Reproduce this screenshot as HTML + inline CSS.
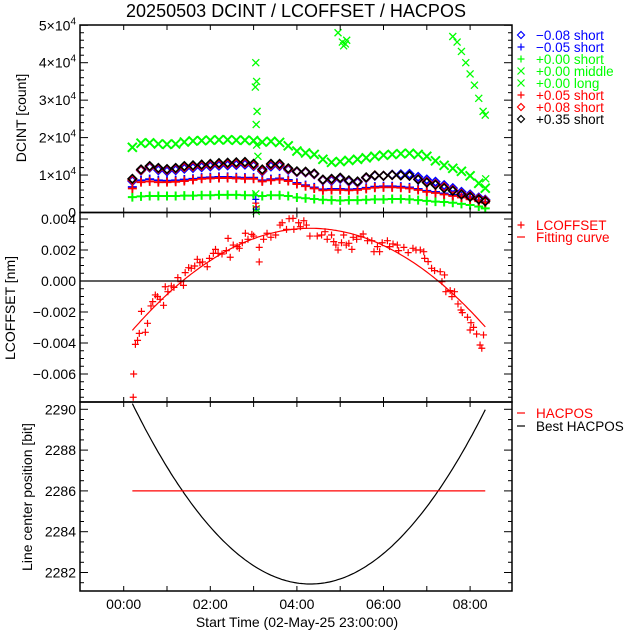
<!DOCTYPE html>
<html><head><meta charset="utf-8"><style>
html,body{margin:0;padding:0;background:#fff;}
svg{display:block;font-family:"Liberation Sans",sans-serif;}
</style></head><body>
<svg id="chart" width="640" height="640" viewBox="0 0 640 640" xmlns="http://www.w3.org/2000/svg">
<rect width="640" height="640" fill="#fff"/>
<text x="296" y="17" font-size="18" text-anchor="middle" textLength="340">20250503 DCINT / LCOFFSET / HACPOS</text>
<g id="marks"></g>
<g id="axes"></g>
<text x="297" y="627" font-size="14" text-anchor="middle">Start Time (02-May-25 23:00:00)</text>
<text transform="translate(26,118) rotate(-90)" font-size="14" text-anchor="middle">DCINT [count]</text>
<text transform="translate(15,308) rotate(-90)" font-size="14" text-anchor="middle">LCOFFSET [nm]</text>
<text transform="translate(32,497) rotate(-90)" font-size="14" text-anchor="middle">Line center position [bit]</text>
<g id="legend"></g>
</svg>
<script>
// ---- data ----
const T = [0.2,0.4,0.6,0.8,1.0,1.2,1.4,1.6,1.8,2.0,2.2,2.4,2.6,2.8,3.0,3.2,3.4,3.6,3.8,4.0,4.2,4.4,4.6,4.8,5.0,5.2,5.4,5.6,5.8,6.0,6.2,6.4,6.6,6.8,7.0,7.2,7.4,7.6,7.8,8.0,8.2,8.35];
// DCINT values in thousands of counts
const greenMiddle = [17.4,18.5,18.6,18.3,18.2,18.3,18.8,19.1,19.2,19.3,19.4,19.4,19.3,19.3,19.2,18.8,19.0,18.7,17.8,16.4,15.9,15.5,14.2,13.4,13.6,13.9,14.2,14.6,15.0,15.3,15.5,15.7,15.8,15.5,15.0,13.8,12.6,11.8,11.0,9.8,7.8,6.5];
const blackDia = [9.0,11.5,12.4,11.9,11.6,11.9,12.4,12.6,12.8,13.0,13.2,13.3,13.4,13.5,13.0,11.5,13.0,13.0,11.8,11.0,10.9,10.4,8.8,9.0,9.3,8.6,8.3,9.4,9.9,9.8,10.0,9.9,9.8,8.8,8.0,7.4,6.5,5.8,4.8,4.2,3.5,3.0];
const blueDia = [8.4,11.2,12.0,11.3,11.0,11.3,11.7,11.9,12.1,12.3,12.5,12.6,12.7,12.8,12.4,11.0,12.3,12.4,11.4,10.8,10.7,10.2,8.6,8.5,9.0,8.3,8.0,9.2,9.8,9.8,10.1,10.2,10.3,9.5,8.8,8.2,7.3,6.5,5.5,4.8,4.0,3.4];
const redDia = [8.7,11.3,12.2,11.7,11.4,11.7,12.1,12.3,12.5,12.7,12.9,13.0,13.1,13.2,12.7,11.2,12.7,12.7,11.6,10.9,10.8,10.3,8.7,8.8,9.2,8.5,8.2,9.3,9.9,9.8,10.0,9.9,9.8,8.9,8.2,7.6,6.8,6.0,5.0,4.4,3.7,3.2];
const bluePlus = [6.8,8.6,8.9,8.6,8.5,8.6,8.8,9.0,9.3,9.4,9.5,9.5,9.4,9.3,9.3,8.6,8.9,9.1,8.7,7.9,7.3,6.7,6.2,6.3,6.3,6.2,6.3,6.6,6.9,7.0,7.0,6.9,6.7,6.3,5.8,5.5,5.1,4.7,4.3,3.8,3.2,2.8];
const redPlus = [6.4,8.1,8.3,8.1,8.1,8.2,8.4,8.7,9.0,9.1,9.2,9.2,9.1,9.0,9.0,8.3,8.6,8.8,8.4,7.6,7.0,6.4,5.9,6.0,6.0,5.9,6.0,6.3,6.6,6.7,6.7,6.6,6.4,6.0,5.5,5.2,4.8,4.4,4.0,3.5,3.0,2.6];
const greenShort = [4.1,4.3,4.4,4.4,4.4,4.4,4.5,4.5,4.6,4.6,4.7,4.7,4.7,4.6,4.6,4.4,4.6,4.6,4.4,4.0,3.8,3.6,3.4,3.3,3.2,3.3,3.3,3.4,3.5,3.5,3.6,3.6,3.5,3.3,3.1,2.9,2.8,2.6,2.3,2.0,1.6,1.1];
const longT = [3.05,3.07,3.04,3.08,3.06,3.07,3.1,3.06,4.95,5.05,5.08,5.12,5.15,7.6,7.7,7.8,7.9,8.0,8.1,8.2,8.3,8.35,8.36];
const longV = [40,35,33.5,27,23.5,18,15,1,48,45.5,44.5,45,46,47,45.5,43,40,37,34,30.5,27,26,9];
const dipT = [3.05,3.06];
const dipRed = [2.5,1.5];
const dipBlue = [3.5,0.8];
const dipGreen = [5.0,0.3];
// LCOFFSET (1e-3 nm)
const lcT = [0.22,0.23,0.27,0.32,0.36,0.50,0.41,0.55,0.63,0.67,0.73,0.78,0.84,0.92,0.96,1.02,1.10,1.16,1.25,1.32,1.38,1.42,1.50,1.56,1.64,1.70,1.76,1.82,1.93,1.98,2.07,2.12,2.18,2.27,2.37,2.46,2.41,2.53,2.62,2.67,2.74,2.81,2.87,2.96,3.0,3.13,3.13,3.23,3.31,3.40,3.51,3.61,3.66,3.76,3.82,3.91,3.93,4.04,4.08,4.16,4.22,4.30,4.47,4.57,4.65,4.70,4.80,4.85,4.90,4.95,5.03,5.08,5.14,5.20,5.27,5.30,5.38,5.48,5.53,5.63,5.73,5.78,5.86,5.91,5.97,6.09,6.14,6.22,6.32,6.35,6.47,6.57,6.68,6.75,6.85,6.93,6.95,7.03,7.11,7.18,7.31,7.41,7.35,7.44,7.54,7.58,7.64,7.72,7.79,7.82,7.94,8.02,8.0,8.08,8.15,8.31,8.23,8.27];
const lcV = [-7.5,-6.0,-4.09,-3.83,-3.38,-3.31,-1.96,-2.73,-1.61,-1.33,-0.90,-1.01,-1.18,-1.57,-0.37,-0.69,-0.32,-0.41,0.22,-0.04,-0.28,0.54,0.86,0.82,0.97,1.40,1.18,1.23,0.92,1.46,1.78,2.04,1.78,1.74,1.96,1.53,2.75,2.32,2.22,2.11,2.47,3.08,2.69,3.01,2.90,2.17,1.23,2.69,3.08,2.82,2.97,3.61,3.76,3.33,4.02,4.04,3.33,3.76,3.50,3.89,3.61,2.90,2.90,2.97,3.18,2.69,2.97,2.54,2.32,2.0,2.47,2.97,2.32,2.43,2.04,2.82,2.69,2.86,3.03,2.60,2.60,1.89,2.22,1.89,2.47,2.60,2.22,2.39,2.32,1.96,2.17,1.83,2.11,2.0,2.0,1.89,1.46,1.25,0.82,0.67,0.60,0.39,-0.04,-0.69,-0.62,-1.01,-0.69,-1.48,-1.87,-2.04,-2.34,-2.69,-3.16,-2.99,-3.42,-3.48,-4.13,-4.34];
const fitCoef = [-3.845,3.362,-0.39]; // c0 + c1 t + c2 t^2  (1e-3 nm)
const fitRange = [0.2,8.35];
const hacpos = [2286];
const nmPerBit = [0.745]; // 1e-3 nm per bit
const x1Ticks = ["00:00","02:00","04:00","06:00","08:00"];
const y1Ticks = [0,1,2,3,4,5];
const y2Ticks = ["0.004","0.002","0.000","\u22120.002","\u22120.004","\u22120.006"];
const y3Ticks = [2290,2288,2286,2284,2282];

// ---- scales ----
const X = t => 123.7 + 43.3*t;
const Y1 = k => 212.5 - k*3.745;
const Y2 = v => 281 - v*15.5;
const Y3 = p => 409.3 + (2290-p)*20.4;
const NS = "http://www.w3.org/2000/svg";
const marks = document.getElementById('marks');
const axes = document.getElementById('axes');
const legend = document.getElementById('legend');
function mk(tag, attrs, parent){const e=document.createElementNS(NS,tag);for(const k in attrs)e.setAttribute(k,attrs[k]);parent.appendChild(e);return e;}
function marker(type,x,y,c,parent,s,w){
  s=s||3.5;w=w||1.2;let d;
  if(type==='+') d=`M${x-s},${y}H${x+s}M${x},${y-s}V${y+s}`;
  else if(type==='x') d=`M${x-s},${y-s}L${x+s},${y+s}M${x-s},${y+s}L${x+s},${y-s}`;
  else d=`M${x},${y-s}L${x+s},${y}L${x},${y+s}L${x-s},${y}Z`;
  return mk('path',{d:d,stroke:c,'stroke-width':w,fill:'none'},parent);
}
function series(name,arrT,arrV,type,c,Yf,s,w){
  const g=mk('g',{},marks);
  
  
  for(let i=0;i<arrT.length;i++){
    const p=marker(type,X(arrT[i]),Yf(arrV[i]),c,g,s,w);
    
    
  }
}
const GR='#00ff00', BL='#0000ff', RD='#ff0000', BK='#000';
series('series-green-short',T,greenShort,'+',GR,Y1,4.5,2);
series('series-green-middle',T,greenMiddle,'x',GR,Y1,4.5,2);
series('series-green-long',longT,longV,'x',GR,Y1,3.5,1.3);
series('series-blue-dia',T,blueDia,'d',BL,Y1,4.2,1.6);
series('series-blue-plus',T,bluePlus,'+',BL,Y1,4.5,1.8);
series('series-red-plus',T,redPlus,'+',RD,Y1,4.5,1.8);
series('series-red-dia',T,redDia,'d',RD,Y1,4.2,1.6);
series('series-black-dia',T,blackDia,'d',BK,Y1,4.2,1.6);
series('dip-red',dipT,dipRed,'+',RD,Y1);
series('dip-blue',dipT,dipBlue,'+',BL,Y1);
series('dip-green',dipT,dipGreen,'x',GR,Y1);
series('lcoffset-points',lcT,lcV,'+',RD,Y2);
// fit curve and HACPOS
const fit = t => fitCoef[0]+fitCoef[1]*t+fitCoef[2]*t*t;
let dF='',dB='';
for(let t=fitRange[0];t<=fitRange[1]+1e-9;t+=0.05){
  dF+=(dF?'L':'M')+X(t).toFixed(1)+','+Y2(fit(t)).toFixed(1);
  dB+=(dB?'L':'M')+X(t).toFixed(1)+','+Y3(hacpos[0]-fit(t)/nmPerBit[0]).toFixed(1);
}
const fc=mk('path',{d:dF,stroke:RD,'stroke-width':1.2,fill:'none'},marks);


const bh=mk('path',{d:dB,stroke:BK,'stroke-width':1.2,fill:'none'},marks);


const hl=mk('line',{x1:X(fitRange[0]),x2:X(fitRange[1]),y1:Y3(hacpos[0]),y2:Y3(hacpos[0]),stroke:RD,'stroke-width':1.2},marks);


const zl=mk('line',{x1:80,x2:512,y1:Y2(0),y2:Y2(0),stroke:BK,'stroke-width':1.2},marks);



// ---- axes ----
const L=80,R=512;
const panels=[[25,212.5],[212.5,402],[402,591]];
panels.forEach((p,i)=>{
  const r=mk('rect',{x:L,y:p[0],width:R-L,height:p[1]-p[0],fill:'none',stroke:BK,'stroke-width':1.5},axes);
  
  
  for(let h=0;h<=8;h++){
    const x=X(h);
    mk('line',{x1:x,x2:x,y1:p[0],y2:p[0]+5,stroke:BK,'stroke-width':1},axes);
    mk('line',{x1:x,x2:x,y1:p[1],y2:p[1]-5,stroke:BK,'stroke-width':1},axes);
  }
});
function yticks(Yf,lo,hi,step,majStep){
  for(let v=lo;v<=hi+1e-9;v+=step){
    const y=Yf(v);
    const maj=Math.abs(v/majStep-Math.round(v/majStep))<1e-6;
    const len=maj?8:4;
    mk('line',{x1:L,x2:L+len,y1:y,y2:y,stroke:BK,'stroke-width':1},axes);
    mk('line',{x1:R,x2:R-len,y1:y,y2:y,stroke:BK,'stroke-width':1},axes);
  }
}
yticks(Y1,0,50,2,10);
yticks(Y2,-7.5,4,0.5,2);
yticks(Y3,2281.5,2290,0.5,2);
y1Ticks.forEach(k=>{
  const t=mk('text',{x:76,y:Y1(k*10)+5,'font-size':14,'text-anchor':'end'},axes);
  
  
  if(k===0){t.textContent='0';}
  else{t.textContent=k+'\u00d710';const s=document.createElementNS(NS,'tspan');s.setAttribute('font-size','10');s.setAttribute('dy','-6');s.textContent='4';t.appendChild(s);}
});
y2Ticks.forEach((s,i)=>{
  const t=mk('text',{x:76,y:Y2(4-2*i)+5,'font-size':14,'text-anchor':'end'},axes);
  
  
  t.textContent=s;
});
y3Ticks.forEach(v=>{
  const t=mk('text',{x:76,y:Y3(v)+5,'font-size':14,'text-anchor':'end'},axes);
  
  
  t.textContent=v;
});
x1Ticks.forEach((s,i)=>{
  const t=mk('text',{x:X(2*i),y:609,'font-size':14,'text-anchor':'middle'},axes);
  
  
  t.textContent=s;
});

// ---- legends ----
const leg1=[['d',BL,'\u22120.08 short'],['+',BL,'\u22120.05 short'],['+',GR,'+0.00 short'],['x',GR,'+0.00 middle'],['x',GR,'+0.00 long'],['+',RD,'+0.05 short'],['d',RD,'+0.08 short'],['d',BK,'+0.35 short']];
leg1.forEach((e,i)=>{
  const y=35+12*i;
  const g=mk('g',{},legend);
  
  
  marker(e[0],521,y,e[1],g);
  const t=mk('text',{x:536,y:y+5,'font-size':13.5,fill:e[1]},g);t.textContent=e[2];
});
function legLine(y,type,c,txt){
  const g=mk('g',{},legend);
  
  
  if(type==='+') marker('+',521,y,c,g);
  else mk('line',{x1:517,x2:525,y1:y,y2:y,stroke:c,'stroke-width':1.2},g);
  const t=mk('text',{x:536,y:y+5,'font-size':13.5,fill:c},g);t.textContent=txt;
}
legLine(225,'+',RD,'LCOFFSET');
legLine(237,'-',RD,'Fitting curve');
legLine(413,'-',RD,'HACPOS');
legLine(426,'-',BK,'Best HACPOS');
</script>
</body></html>
